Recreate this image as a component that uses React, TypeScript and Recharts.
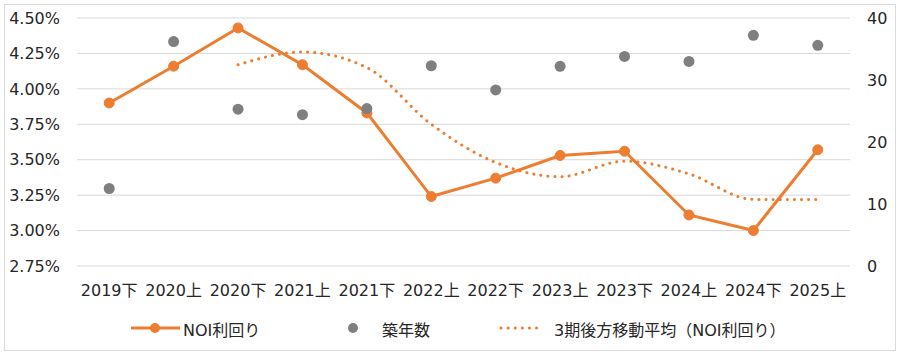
import {
  ComposedChart, Line, Scatter, XAxis, YAxis, CartesianGrid,
} from "recharts";

// ── データ ──────────────────────────────────────────────────────────────────

const periods = [
  "2019下", "2020上", "2020下", "2021上", "2021下", "2022上",
  "2022下", "2023上", "2023下", "2024上", "2024下", "2025上",
];

// NOI利回り (%)
const noiYield = [3.90, 4.16, 4.43, 4.17, 3.83, 3.24, 3.37, 3.53, 3.56, 3.11, 3.00, 3.57];

// 築年数 (年)
const buildingAge = [12.5, 36.2, 25.3, 24.4, 25.4, 32.3, 28.4, 32.2, 33.8, 33.0, 37.2, 35.6];

// 3期後方移動平均 (NOI利回り)
const movingAvg = [null, null, 4.17, 4.26, 4.15, 3.75, 3.48, 3.38, 3.49, 3.40, 3.22, 3.22];

const leftTicks = [2.75, 3.0, 3.25, 3.5, 3.75, 4.0, 4.25, 4.5];
const rightTicks = [0, 10, 20, 30, 40];

const ORANGE = "#ED7D31";
const GRAY = "#7F7F7F";
const TEXT = "#262626";
const FONT = "'DejaVu Sans', 'Noto Sans CJK JP', sans-serif";

const data = periods.map((p, i) => ({
  period: p,
  noi: noiYield[i],
  age: buildingAge[i],
  ma: movingAvg[i],
}));

const tickStyle = { fill: TEXT, fontSize: 16, fontFamily: FONT };

// ── 凡例 ────────────────────────────────────────────────────────────────────

function ChartLegend() {
  return (
    <div
      style={{
        position: "absolute", left: 0, top: 317, width: 900, height: 22,
        fontFamily: FONT, fontSize: 16, color: TEXT,
      }}
    >
      <svg width={900} height={22} style={{ position: "absolute", left: 0, top: 0 }}>
        <line x1={131} x2={180} y1={11} y2={11} stroke={ORANGE} strokeWidth={3} />
        <circle cx={155} cy={11} r={5} fill={ORANGE} />
        <circle cx={353} cy={11} r={5} fill={GRAY} />
        <line x1={501} x2={538} y1={11} y2={11} stroke={ORANGE} strokeWidth={3}
          strokeDasharray="0.1 7" strokeLinecap="round" />
      </svg>
      <span style={{ position: "absolute", left: 183, top: 0 }}>NOI利回り</span>
      <span style={{ position: "absolute", left: 382, top: 0 }}>築年数</span>
      <span style={{ position: "absolute", left: 554, top: 0 }}>3期後方移動平均（NOI利回り）</span>
    </div>
  );
}

// ── チャート ────────────────────────────────────────────────────────────────

export default function App() {
  return (
    <div style={{ position: "absolute", left: 0, top: 0, width: 900, height: 356, background: "#fff" }}>
      <div
        style={{
          position: "absolute", left: 4, top: 4, width: 890, height: 345,
          border: "1px solid #D9D9D9",
        }}
      />
      <ComposedChart
        width={900}
        height={356}
        data={data}
        margin={{ top: 18, right: 0, bottom: 0, left: 0 }}
        style={{ position: "absolute", left: 0, top: 0 }}
      >
        <CartesianGrid yAxisId="left" vertical={false} stroke="#D9D9D9" strokeWidth={1} />
        <XAxis
          dataKey="period"
          scale="band"
          tick={tickStyle}
          tickLine={false}
          axisLine={false}
          tickSize={0}
          tickMargin={19}
          height={90}
          interval={0}
        />
        <YAxis
          yAxisId="left"
          domain={[2.75, 4.5]}
          ticks={leftTicks}
          tickFormatter={(v: number) => `${v.toFixed(2)}%`}
          tick={tickStyle}
          tickLine={false}
          axisLine={false}
          tickSize={0}
          tickMargin={17}
          width={77}
          allowDataOverflow
        />
        <YAxis
          yAxisId="right"
          orientation="right"
          domain={[0, 40]}
          ticks={rightTicks}
          tick={tickStyle}
          tickLine={false}
          axisLine={false}
          tickSize={0}
          tickMargin={17}
          width={50}
        />
        <Line
          yAxisId="left"
          type="monotone"
          dataKey="ma"
          stroke={ORANGE}
          strokeWidth={3}
          strokeDasharray="0.1 7"
          strokeLinecap="round"
          dot={false}
          activeDot={false}
          isAnimationActive={false}
        />
        <Line
          yAxisId="left"
          type="linear"
          dataKey="noi"
          stroke={ORANGE}
          strokeWidth={3}
          dot={{ r: 5, fill: ORANGE, stroke: ORANGE, strokeWidth: 1 }}
          activeDot={false}
          isAnimationActive={false}
        />
        <Scatter
          yAxisId="right"
          dataKey="age"
          fill={GRAY}
          shape={(p: { cx?: number; cy?: number }) => (
            <circle cx={p.cx} cy={p.cy} r={5.5} fill={GRAY} />
          )}
          isAnimationActive={false}
        />
      </ComposedChart>
      <ChartLegend />
    </div>
  );
}
